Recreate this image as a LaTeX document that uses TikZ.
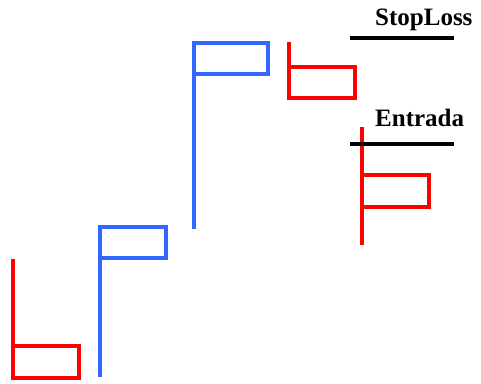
\documentclass[tikz,border=0pt]{standalone}
\usepackage{fontspec}
\setmainfont{Liberation Serif}
\usetikzlibrary{positioning}
\definecolor{upblue}{RGB}{51,102,255}
\tikzset{
	bar/.style={line width=3.5pt},
	levelline/.style={line width=3.5pt,black},
	levellabel/.style={font=\bfseries\fontsize{25}{30}\selectfont,inner sep=0pt,anchor=base west}
}
\begin{document}
\begin{tikzpicture}[x=1pt,y=-1pt]
				\useasboundingbox (0,0) rectangle (481,383);
				% candles
				\draw[bar,red] (13,259) -- (13,378);
				\draw[bar,red] (13,346) rectangle (79,378);
				\draw[bar,upblue] (100,227) -- (100,377);
				\draw[bar,upblue] (100,227) rectangle (166,258);
				\draw[bar,upblue] (194,43) -- (194,229);
				\draw[bar,upblue] (194,43) rectangle (268,74);
				\draw[bar,red] (289,42) -- (289,98);
				\draw[bar,red] (289,67) rectangle (355,98);
				\draw[bar,red] (362,127) -- (362,245);
				\draw[bar,red] (362,175) rectangle (429,207);
				
				% levels
				\coordinate (sl1) at (350,38);
				\coordinate (sl2) at (454,38);
				\coordinate (en1) at (350,144);
				\coordinate (en2) at (454,144);
				\draw[levelline] (sl1) -- (sl2);
				\draw[levelline] (en1) -- (en2);
				\node[levellabel] (stoploss) at (375,25) {StopLoss};
				\node[levellabel] (entrada) at (375,126) {Entrada};
			\end{tikzpicture}
\end{document}
